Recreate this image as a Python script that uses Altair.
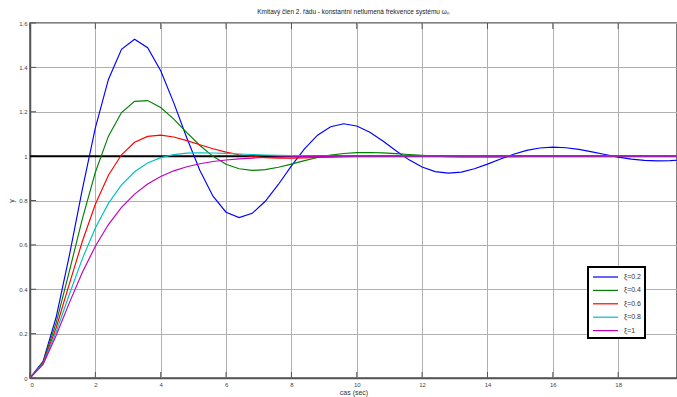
import altair as alt
import pandas as pd

# time samples (s)
t = [0.0, 0.4, 0.8, 1.2, 1.6, 2.0, 2.4, 2.8, 3.2, 3.6, 4.0, 4.4, 4.8, 5.2, 5.6,
     6.0, 6.4, 6.8, 7.2, 7.6, 8.0, 8.4, 8.8, 9.2, 9.6, 10.0, 10.4, 10.8, 11.2,
     11.6, 12.0, 12.4, 12.8, 13.2, 13.6, 14.0, 14.4, 14.8, 15.2, 15.6, 16.0,
     16.4, 16.8, 17.2, 17.6, 18.0, 18.4, 18.8, 19.2, 19.6, 19.8]

y_02 = [0.0, 0.0751, 0.2737, 0.5491, 0.8495, 1.1275, 1.3457, 1.4812, 1.5265,
        1.4884, 1.3844, 1.2400, 1.0818, 0.9350, 0.8194, 0.7473, 0.7227, 0.7422,
        0.7965, 0.8723, 0.9557, 1.0331, 1.0943, 1.1326, 1.1460, 1.1360, 1.1077,
        1.0680, 1.0240, 0.9832, 0.9508, 0.9304, 0.9231, 0.9281, 0.9429, 0.9638,
        0.9870, 1.0086, 1.0257, 1.0366, 1.0405, 1.0379, 1.0302, 1.0192, 1.0071,
        0.9957, 0.9866, 0.9808, 0.9787, 0.9800, 0.9815]

y_04 = [0.0, 0.0712, 0.2485, 0.4786, 0.7162, 0.9271, 1.0901, 1.1963, 1.2469,
        1.2502, 1.2189, 1.1665, 1.1061, 1.0478, 0.9990, 0.9637, 0.9430, 0.9356,
        0.9391, 0.9497, 0.9642, 0.9797, 0.9936, 1.0046, 1.0119, 1.0157, 1.0163,
        1.0145, 1.0112, 1.0074, 1.0036, 1.0003, 0.9979, 0.9965, 0.9959, 0.9960,
        0.9966, 0.9976, 0.9986, 0.9995, 1.0003, 1.0008, 1.0010, 1.0010, 1.0009,
        1.0007, 1.0005, 1.0003, 1.0001, 1.0000, 0.9999]

y_06 = [0.0, 0.0679, 0.2265, 0.4217, 0.6151, 0.7830, 0.9141, 1.0060, 1.0621,
        1.0890, 1.0945, 1.0861, 1.0700, 1.0514, 1.0333, 1.0180, 1.0063, 0.9982,
        0.9935, 0.9913, 0.9911, 0.9921, 0.9937, 0.9955, 0.9971, 0.9985, 0.9996,
        1.0003, 1.0007, 1.0008, 1.0008, 1.0007, 1.0005, 1.0003, 1.0002, 1.0000,
        1.0000, 1.0000, 1.0000, 1.0000, 1.0000, 1.0000, 1.0000, 1.0000, 1.0000,
        1.0000, 1.0000, 1.0000, 1.0000, 1.0000, 1.0000]

y_08 = [0.0, 0.0647, 0.2073, 0.3755, 0.5369, 0.6759, 0.7871, 0.8705, 0.9296,
        0.9690, 0.9933, 1.0070, 1.0133, 1.0153, 1.0143, 1.0122, 1.0097, 1.0072,
        1.0051, 1.0034, 1.0021, 1.0011, 1.0005, 1.0001, 0.9999, 0.9998, 0.9998,
        0.9998, 0.9999, 0.9999, 1.0000, 1.0000, 1.0000, 1.0000, 1.0000, 1.0000,
        1.0000, 1.0000, 1.0000, 1.0000, 1.0000, 1.0000, 1.0000, 1.0000, 1.0000,
        1.0000, 1.0000, 1.0000, 1.0000, 1.0000, 1.0000]

y_10 = [0.0, 0.0616, 0.1912, 0.3374, 0.4751, 0.5940, 0.6916, 0.7689, 0.8288,
        0.8743, 0.9084, 0.9337, 0.9523, 0.9658, 0.9756, 0.9826, 0.9877, 0.9913,
        0.9939, 0.9957, 0.9970, 0.9979, 0.9985, 0.9990, 0.9993, 0.9995, 0.9997,
        0.9998, 0.9999, 0.9999, 1.0000, 1.0000, 1.0000, 1.0000, 1.0000, 1.0000,
        1.0000, 1.0000, 1.0000, 1.0000, 1.0000, 1.0000, 1.0000, 1.0000, 1.0000,
        1.0000, 1.0000, 1.0000, 1.0000, 1.0000, 1.0000]

labels = ["ξ=0.2", "ξ=0.4", "ξ=0.6", "ξ=0.8", "ξ=1"]
colors = ["#0000ff", "#008000", "#ff0000", "#00bfbf", "#bf00bf"]
x_ticks = [0, 2, 4, 6, 8, 10, 12, 14, 16, 18]
y_ticks = [0, 0.2, 0.4, 0.6, 0.8, 1.0, 1.2, 1.4, 1.6]
ref_level = [1.0]

series = [y_02, y_04, y_06, y_08, y_10]
rows = []
for lab, ys_ in zip(labels, series):
    for ti, yi in zip(t, ys_):
        rows.append({"t": ti, "y": yi, "s": lab})
df = pd.DataFrame(rows)

W, H = 647, 355
FONT = "Liberation Sans"
xs = alt.Scale(domain=[0, 19.8], nice=False, zero=False)
ys = alt.Scale(domain=[0, 1.6], nice=False)

axis_common = dict(
    grid=True, gridColor="#b0b0b0", gridWidth=1,
    domainColor="#555555", domainWidth=1.5, ticks=False,
    labelFont=FONT, labelFontSize=6, labelColor="#444444",
    titleFont=FONT, titleFontSize=7, titleFontWeight="normal", titleColor="#333333",
)
x_axis = alt.Axis(values=x_ticks, title="cas (sec)", labelPadding=3,
                  titlePadding=1, **axis_common)
y_axis = alt.Axis(values=y_ticks, format="~g", title="y", labelPadding=3,
                  titlePadding=4, **axis_common)

ref = alt.Chart(pd.DataFrame({"v": ref_level})).mark_rule(
    color="black", strokeWidth=2
).encode(y=alt.Y("v:Q", scale=ys, axis=y_axis))

lines = alt.Chart(df).mark_line(strokeWidth=1.15, clip=True).encode(
    x=alt.X("t:Q", scale=xs, axis=x_axis),
    y=alt.Y("y:Q", scale=ys, axis=y_axis),
    color=alt.Color("s:N", scale=alt.Scale(domain=labels, range=colors),
                    legend=alt.Legend(
                        title=None, orient="none", legendX=558, legendY=244,
                        symbolType="M-1,0H4", symbolSize=100, symbolStrokeWidth=1.2,
                        labelFont=FONT, labelFontSize=7, labelColor="#333333",
                        labelOffset=20, rowPadding=4.4, padding=4,
                        strokeColor="black", fillColor="white")),
)

xt = pd.DataFrame({"v": x_ticks})
yt = pd.DataFrame({"v": y_ticks})
bottom_ticks = alt.Chart(xt).mark_rule(color="#555555", strokeWidth=1).encode(
    x=alt.X("v:Q", scale=xs, axis=x_axis), y=alt.value(H), y2=alt.value(H - 6))
top_ticks = alt.Chart(xt).mark_rule(color="#555555", strokeWidth=1).encode(
    x=alt.X("v:Q", scale=xs, axis=x_axis), y=alt.value(0), y2=alt.value(6))
left_ticks = alt.Chart(yt).mark_rule(color="#555555", strokeWidth=1).encode(
    y=alt.Y("v:Q", scale=ys, axis=y_axis), x=alt.value(0), x2=alt.value(6))

chart = alt.layer(bottom_ticks, top_ticks, left_ticks, ref, lines).properties(
    width=W, height=H,
    autosize=alt.AutoSizeParams(type="none"),
    padding={"left": 30, "top": 23, "right": 0, "bottom": 19},
    title=alt.TitleParams(
        text="Kmitavý člen 2. řádu - konstantní netlumená frekvence systému ωₙ",
        font=FONT, fontSize=6.5, fontWeight="normal", color="#222222",
        anchor="middle", offset=5),
).configure_view(stroke="#555555", strokeWidth=1.5
).configure_legend(strokeWidth=2)

chart.save("out.html", embed_options={"renderer": "svg", "actions": False})
